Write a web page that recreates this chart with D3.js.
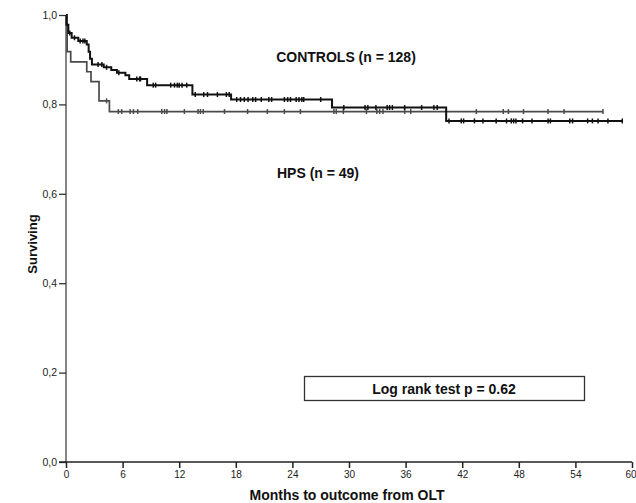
<!DOCTYPE html>
<html>
<head>
<meta charset="utf-8">
<script src="https://cdn.jsdelivr.net/npm/d3@7"></script>
<style>
  html, body { margin: 0; padding: 0; background: #fff; }
  svg { display: block; font-family: "Liberation Sans", Arial, sans-serif; }
</style>
</head>
<body>
<svg id="chart" width="636" height="503"></svg>
<script>
// Kaplan–Meier survival after OLT: controls vs HPS

// Controls: event times (months) and survival after each drop
const controlsEventMonths = [0.05, 0.25, 0.6, 1.3, 2.2, 2.4, 2.55, 2.75, 4.0, 4.8, 5.4, 6.3, 6.7, 8.6, 13.4, 17.5, 28.2, 40.3];
const controlsSurvival    = [0.978, 0.960, 0.949, 0.942, 0.934, 0.918, 0.902, 0.889, 0.883, 0.877, 0.871, 0.865, 0.857, 0.843, 0.822, 0.811, 0.793, 0.763];
// Controls: censored follow-up times (months)
const controlsCensored = [0.4, 0.9, 1.5, 1.8, 2.0, 3.4, 3.8, 4.3, 5.6, 7.5, 7.8, 7.9, 9.25, 9.5, 11.1, 11.5, 11.8, 12.0, 12.3, 12.8,
  13.7, 14.6, 15.0, 16.05, 17.0, 17.3, 18.1, 18.5, 18.9, 19.3, 19.8, 20.1, 20.7, 21.5, 21.8, 23.15, 23.5, 23.8, 24.4, 24.7,
  25.0, 25.2, 27.0, 29.45, 31.7, 32.0, 32.85, 34.05, 34.3, 34.6, 35.9, 37.7, 39.0, 39.35, 40.6, 41.9, 42.15, 43.3, 44.2,
  45.6, 46.7, 47.2, 47.45, 47.7, 48.4, 49.4, 51.1, 51.35, 53.4, 53.7, 55.3, 55.8, 56.4, 57.45, 58.97];

// HPS: event times (months) and survival after each drop
const hpsEventMonths = [0.12, 0.5, 2.2, 2.65, 3.5, 4.6];
const hpsSurvival    = [0.918, 0.895, 0.873, 0.851, 0.808, 0.784];
// HPS: censored follow-up times (months)
const hpsCensored = [4.3, 5.55, 5.9, 6.8, 7.15, 7.6, 10.15, 10.45, 10.7, 12.55, 14.0, 14.25, 14.55, 16.8, 19.25, 21.35,
  23.15, 24.85, 28.4, 28.65, 29.4, 31.85, 32.95, 33.25, 33.6, 35.9, 36.55, 43.5, 46.35, 46.9, 48.5, 51.1, 52.8, 56.92];

const xTicks = [0, 6, 12, 18, 24, 30, 36, 42, 48, 54, 60];
const yTicks = [0, 0.2, 0.4, 0.6, 0.8, 1.0];

const svg = d3.select("#chart");
const x = d3.scaleLinear().domain([0, 60]).range([66, 632]);
const y = d3.scaleLinear().domain([0, 1]).range([462, 15]);

function survivalAt(times, surv, t) {
  let s = 1;
  for (let i = 0; i < times.length; i++) if (times[i] <= t) s = surv[i];
  return s;
}

function stepPoints(times, surv, end) {
  const pts = [[0, 1]];
  times.forEach((t, i) => pts.push([t, surv[i]]));
  pts.push([end, surv[surv.length - 1]]);
  return pts;
}

const line = d3.line().x(d => x(d[0])).y(d => y(d[1])).curve(d3.curveStepAfter);

// Axes
const fmt = d => d.toFixed(1).replace(".", ",");
const yAxis = svg.append("g").attr("transform", "translate(66,0)")
  .call(d3.axisLeft(y).tickValues(yTicks).tickFormat(fmt).tickSize(7).tickPadding(2));
yAxis.select(".domain").attr("stroke", "#777").attr("stroke-width", 1.8).attr("d", "M0," + y(1) + "V" + y(0));
yAxis.selectAll(".tick line").attr("stroke", "#333").attr("stroke-width", 1.3);
yAxis.selectAll(".tick text").attr("font-size", 10.5).attr("fill", "#222")
  .attr("font-family", "Liberation Sans, Arial, sans-serif");

const xAxis = svg.append("g").attr("transform", "translate(0,462)")
  .call(d3.axisBottom(x).tickValues(xTicks).tickFormat(d3.format("d")).tickSize(6).tickPadding(3));
xAxis.select(".domain").attr("stroke", "#222").attr("stroke-width", 1.5).attr("d", "M59,0H" + x(60));
xAxis.selectAll(".tick line").attr("stroke", "#222").attr("stroke-width", 1.5);
xAxis.selectAll(".tick text").attr("font-size", 10).attr("fill", "#222")
  .attr("font-family", "Liberation Sans, Arial, sans-serif");
// keep the last tick label inside the page
xAxis.selectAll(".tick text").filter(d => d === 60).attr("text-anchor", "end").attr("dx", 4);

// Survival curves
const series = [
  { times: hpsEventMonths, surv: hpsSurvival, cens: hpsCensored, color: "#4a4a4a", width: 1.7 },
  { times: controlsEventMonths, surv: controlsSurvival, cens: controlsCensored, color: "#111", width: 2 }
];
series.forEach(s => {
  const end = d3.max(s.cens);
  svg.append("path")
    .attr("d", line(stepPoints(s.times, s.surv, end)))
    .attr("fill", "none").attr("stroke", s.color).attr("stroke-width", s.width);
  svg.append("g").selectAll("line").data(s.cens).join("line")
    .attr("x1", d => x(d)).attr("x2", d => x(d))
    .attr("y1", d => y(survivalAt(s.times, s.surv, d)) - 2.5)
    .attr("y2", d => y(survivalAt(s.times, s.surv, d)) + 2.5)
    .attr("stroke", s.color).attr("stroke-width", 1.5);
});

// Labels
svg.append("text").attr("x", 346).attr("y", 62).attr("text-anchor", "middle")
  .attr("font-size", 14).attr("font-weight", "bold").attr("fill", "#111").text("CONTROLS (n = 128)");
svg.append("text").attr("x", 318).attr("y", 178).attr("text-anchor", "middle")
  .attr("font-size", 14).attr("font-weight", "bold").attr("fill", "#111").text("HPS (n = 49)");

svg.append("rect").attr("x", 304.5).attr("y", 376.5).attr("width", 280).attr("height", 24)
  .attr("fill", "#fff").attr("stroke", "#333").attr("stroke-width", 1.3);
svg.append("text").attr("x", 444).attr("y", 393.5).attr("text-anchor", "middle")
  .attr("font-size", 14).attr("font-weight", "bold").attr("fill", "#111").text("Log rank test p = 0.62");

svg.append("text").attr("x", 347).attr("y", 500).attr("text-anchor", "middle")
  .attr("font-size", 14).attr("font-weight", "bold").attr("fill", "#111").text("Months to outcome from OLT");
svg.append("text").attr("transform", "translate(36.5,244) rotate(-90)").attr("text-anchor", "middle")
  .attr("font-size", 13).attr("font-weight", "bold").attr("fill", "#111").text("Surviving");
</script>
</body>
</html>
